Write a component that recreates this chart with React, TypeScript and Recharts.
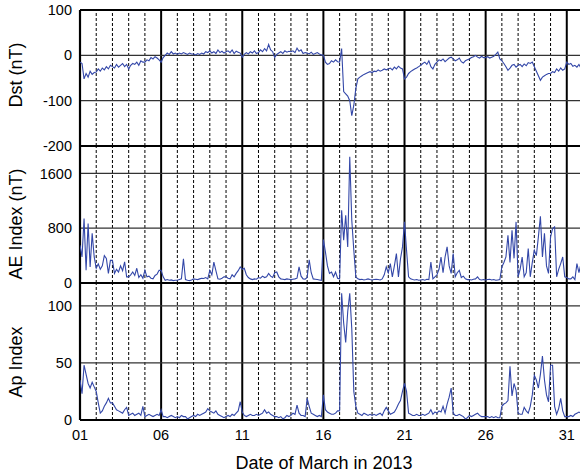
import React from 'react';
import { LineChart, Line, XAxis, YAxis, ReferenceLine } from 'recharts';

// 3-hourly samples, 8 per day, starting 1 March 00 UT
const dstValues: number[] = [
  -15, -18, -52, -40, -48, -35, -42, -38,
  -37, -30, -35, -28, -32, -25, -30, -22,
  -25, -28, -20, -26, -22, -18, -25, -20,
  -30, -22, -18, -20, -15, -22, -12, -15,
  -15, -10, -12, -5, -8, -3, -6, -10,
  -15, -5, 0, 5, 2, 8, 3, 5,
  2, 5, 3, 6, 4, 2, 5, 3,
  3, 1, 4, 2, 5, 3, 8, 6,
  10, 5, 8, 4, 12, 6, 9, 5,
  8, 10, 6, 12, 4, 9, 7, 5,
  -4, 2, 6, 3, 8, 5, 10, 4,
  6, 12, 8, 15, 10, 24, 12, 8,
  -5, 2, 5, 8, 4, 10, 7, 9,
  8, 10, 6, 16, 9, 12, 4, 6,
  5, 3, 7, 2, 4, 6, 3, 1,
  0, -15, -20, -18, -12, -15, -10, -14,
  -15, 15, -80, -85, -90, -100, -133, -110,
  -73, -52, -48, -45, -42, -40, -38, -36,
  -38, -35, -36, -32, -35, -33, -30, -32,
  -30, -28, -32, -26, -30, -24, -28, -30,
  -52, -48, -40, -36, -33, -30, -28, -25,
  -22, -18, -15, -20, -12, -25, -30, -20,
  -15, -10, -12, -8, -14, -10, -6, -4,
  -8, -12, -10, -6, -14, -17, -12, -10,
  -8, -5, -3, 0, -4, -6, -2, -5,
  -5, -3, -6, -4, -2, 2, 7, -8,
  -12, -18, -25, -33, -28, -22, -20, -26,
  -22, -20, -25, -19, -23, -16, -18, -15,
  -25, -35, -45, -55, -48, -45, -42, -40,
  -40, -36, -38, -30, -35, -28, -33, -30,
  -15, -20, -18, -24, -22, -26, -20, -28,
];

const aeValues: number[] = [
  550, 380, 940, 185, 870, 234, 725, 380,
  215, 280, 200, 250, 400, 360, 140, 330,
  330, 140, 200, 160, 250, 180, 310, 90,
  90, 120, 160, 110, 215, 80, 120, 70,
  185, 90, 100, 70, 60, 110, 130, 185,
  185, 90, 40, 50, 40, 45, 35, 40,
  40, 50, 60, 355, 50, 40, 35, 45,
  60, 55, 50, 60, 70, 65, 80, 60,
  185, 120, 305, 180, 60, 55, 70, 90,
  90, 70, 60, 120, 90, 140, 180, 234,
  200, 215, 120, 80, 60, 50, 60, 55,
  80, 70, 100, 80, 90, 140, 100, 80,
  150, 160, 90, 60, 55, 50, 60, 55,
  50, 55, 60, 70, 234, 100, 60, 55,
  80, 340, 150, 60, 55, 50, 45, 40,
  635, 455, 250, 140, 160, 90, 160, 70,
  60, 1063, 625, 990, 527, 1842, 917, 478,
  88, 60, 50, 55, 45, 50, 60, 50,
  45, 50, 55, 50, 45, 60, 120, 234,
  150, 283, 90, 250, 430, 90, 350, 527,
  892, 478, 90, 60, 50, 45, 50, 40,
  45, 50, 40, 55, 50, 307, 60, 90,
  120, 200, 380, 150, 380, 527, 250, 140,
  430, 90, 150, 185, 80, 100, 60, 50,
  50, 45, 55, 60, 90, 50, 45, 50,
  45, 50, 55, 45, 50, 40, 45, 50,
  234, 300, 380, 697, 300, 770, 360, 892,
  90, 200, 380, 90, 150, 503, 90, 300,
  478, 400, 673, 975, 380, 725, 250, 140,
  673, 795, 820, 90, 200, 283, 380, 90,
  80, 60, 60, 90, 50, 283, 150, 283,
];

const apValues: number[] = [
  35, 23, 48, 40, 32, 28, 33, 29,
  25, 15, 6, 8, 12, 15, 19, 15,
  15, 12, 9, 8, 7, 6, 9, 11,
  4, 5, 6, 4, 5, 6, 4, 12,
  3, 4, 5, 4, 3, 4, 5, 4,
  9, 3, 3, 2, 3, 4, 3, 2,
  3, 2, 4, 3, 3, 1, 2, 3,
  4, 3, 5, 4, 5, 6, 7, 10,
  8, 7, 6, 8, 5, 4, 3, 2,
  3, 4, 3, 5, 4, 6, 8, 16,
  7, 4, 3, 4, 5, 4, 4, 5,
  4, 5, 6, 9, 6, 7, 5, 4,
  3, 3, 2, 3, 1, 2, 4, 3,
  4, 6, 5, 13, 6, 4, 4, 3,
  19, 12, 6, 5, 4, 3, 4, 3,
  22, 9, 7, 6, 5, 5, 6, 8,
  8, 111, 85, 68, 95, 111, 80, 25,
  12, 6, 5, 4, 6, 5, 4, 5,
  4, 5, 4, 5, 6, 4, 8, 11,
  8, 5, 6, 7, 10, 14, 17, 25,
  32, 25, 6, 5, 4, 4, 5, 4,
  4, 5, 4, 5, 6, 9, 5, 7,
  6, 8, 7, 12, 6, 14, 20, 28,
  6, 4, 4, 5, 4, 3, 1, 2,
  4, 3, 4, 5, 6, 4, 3, 3,
  3, 3, 2, 3, 2, 3, 2, 2,
  12, 14, 15, 17, 47, 21, 32, 26,
  6, 5, 5, 11, 8, 6, 12, 22,
  39, 35, 28, 40, 56, 35, 22, 16,
  48, 48, 12, 5, 10, 19, 8, 3,
  3, 3, 4, 3, 5, 6, 7, 6,
];

const dayTicks: number[] = [1, 6, 11, 16, 21, 26, 31];
const dayTickLabels: string[] = ['01', '06', '11', '16', '21', '26', '31'];
const allDays: number[] = Array.from({ length: 31 }, (_, i) => i + 2);

const dstTicks: number[] = [-200, -100, 0, 100];
const aeTicks: number[] = [0, 800, 1600];
const apTicks: number[] = [0, 50, 100];

const SAMPLES_PER_DAY = 8;
const build = (vals: number[]) => vals.map((v, i) => ({ t: 1 + i / SAMPLES_PER_DAY, v }));

const dstData = build(dstValues);
const aeData = build(aeValues);
const apData = build(apValues);

const W = 583;
const H = 475;
const FONT = '"Liberation Sans", Arial, Helvetica, sans-serif';
const LINE_COLOR = '#3347a8';

type PanelProps = {
  data: { t: number; v: number }[];
  domain: [number, number];
  ticks: number[];
  top: number;
  bottom: number;
  showX: boolean;
};

const Panel = ({ data, domain, ticks, top, bottom, showX }: PanelProps) => {
  const inner = ticks.filter((t) => t > domain[0] && t < domain[1]);
  return (
    <div style={{ position: 'absolute', left: 0, top: 0 }}>
      <LineChart
        width={W}
        height={H}
        data={data}
        margin={{ top, right: 0, bottom: showX ? bottom - 30 : bottom, left: 0 }}
      >
        <XAxis
          dataKey="t"
          type="number"
          domain={[1, 32]}
          ticks={dayTicks}
          hide={!showX}
          height={30}
          tickLine={false}
          axisLine={false}
          tickSize={6}
          tickMargin={4}
          interval={0}
          allowDataOverflow
          tickFormatter={(d: number) => dayTickLabels[dayTicks.indexOf(d)] ?? String(d)}
          tick={{ fill: '#000', fontSize: 14.5, fontFamily: FONT }}
        />
        <YAxis
          type="number"
          domain={domain}
          ticks={ticks}
          width={80}
          interval={0}
          tickLine={false}
          axisLine={false}
          tickSize={6}
          tickMargin={2}
          allowDataOverflow
          tick={{ fill: '#000', fontSize: 14.5, fontFamily: FONT }}
        />
        {allDays.map((d) => (
          <ReferenceLine
            key={'v' + d}
            x={d}
            stroke="#000"
            strokeWidth={(d - 1) % 5 === 0 ? 2 : 1}
            strokeDasharray={(d - 1) % 5 === 0 ? undefined : '3 2'}
            ifOverflow="extendDomain"
          />
        ))}
        {inner.map((y) => (
          <ReferenceLine key={'h' + y} y={y} stroke="#333" strokeWidth={1.3} />
        ))}
        <ReferenceLine x={1} stroke="#000" strokeWidth={2.2} />
        <ReferenceLine y={domain[0]} stroke="#000" strokeWidth={2.2} />
        <ReferenceLine y={domain[1]} stroke="#000" strokeWidth={2.2} />
        <Line
          type="linear"
          dataKey="v"
          stroke={LINE_COLOR}
          strokeWidth={1.1}
          dot={false}
          isAnimationActive={false}
        />
      </LineChart>
    </div>
  );
};

const yTitles: { text: string; cy: number }[] = [
  { text: 'Dst (nT)', cy: 75 },
  { text: 'AE Index (nT)', cy: 224 },
  { text: 'Ap Index', cy: 362 },
];

export default function App() {
  return (
    <div
      style={{
        position: 'absolute',
        left: 0,
        top: 0,
        width: 580,
        height: 475,
        overflow: 'hidden',
        background: '#fff',
        fontFamily: FONT,
      }}
    >
      <Panel data={dstData} domain={[-200, 100]} ticks={dstTicks} top={10} bottom={H - 146} showX={false} />
      <Panel data={aeData} domain={[0, 2000]} ticks={aeTicks} top={146} bottom={H - 283} showX={false} />
      <Panel data={apData} domain={[0, 120]} ticks={apTicks} top={283} bottom={H - 420} showX={true} />
      <svg
        width={580}
        height={475}
        style={{ position: 'absolute', left: 0, top: 0, pointerEvents: 'none' }}
      >
        {yTitles.map((t) => (
          <text
            key={t.text}
            transform={`translate(22, ${t.cy}) rotate(-90)`}
            textAnchor="middle"
            fontSize={18}
            fontFamily={FONT}
            fill="#000"
          >
            {t.text}
          </text>
        ))}
        <text x={324} y={469} textAnchor="middle" fontSize={18} fontFamily={FONT} fill="#000">
          Date of March in 2013
        </text>
      </svg>
    </div>
  );
}
